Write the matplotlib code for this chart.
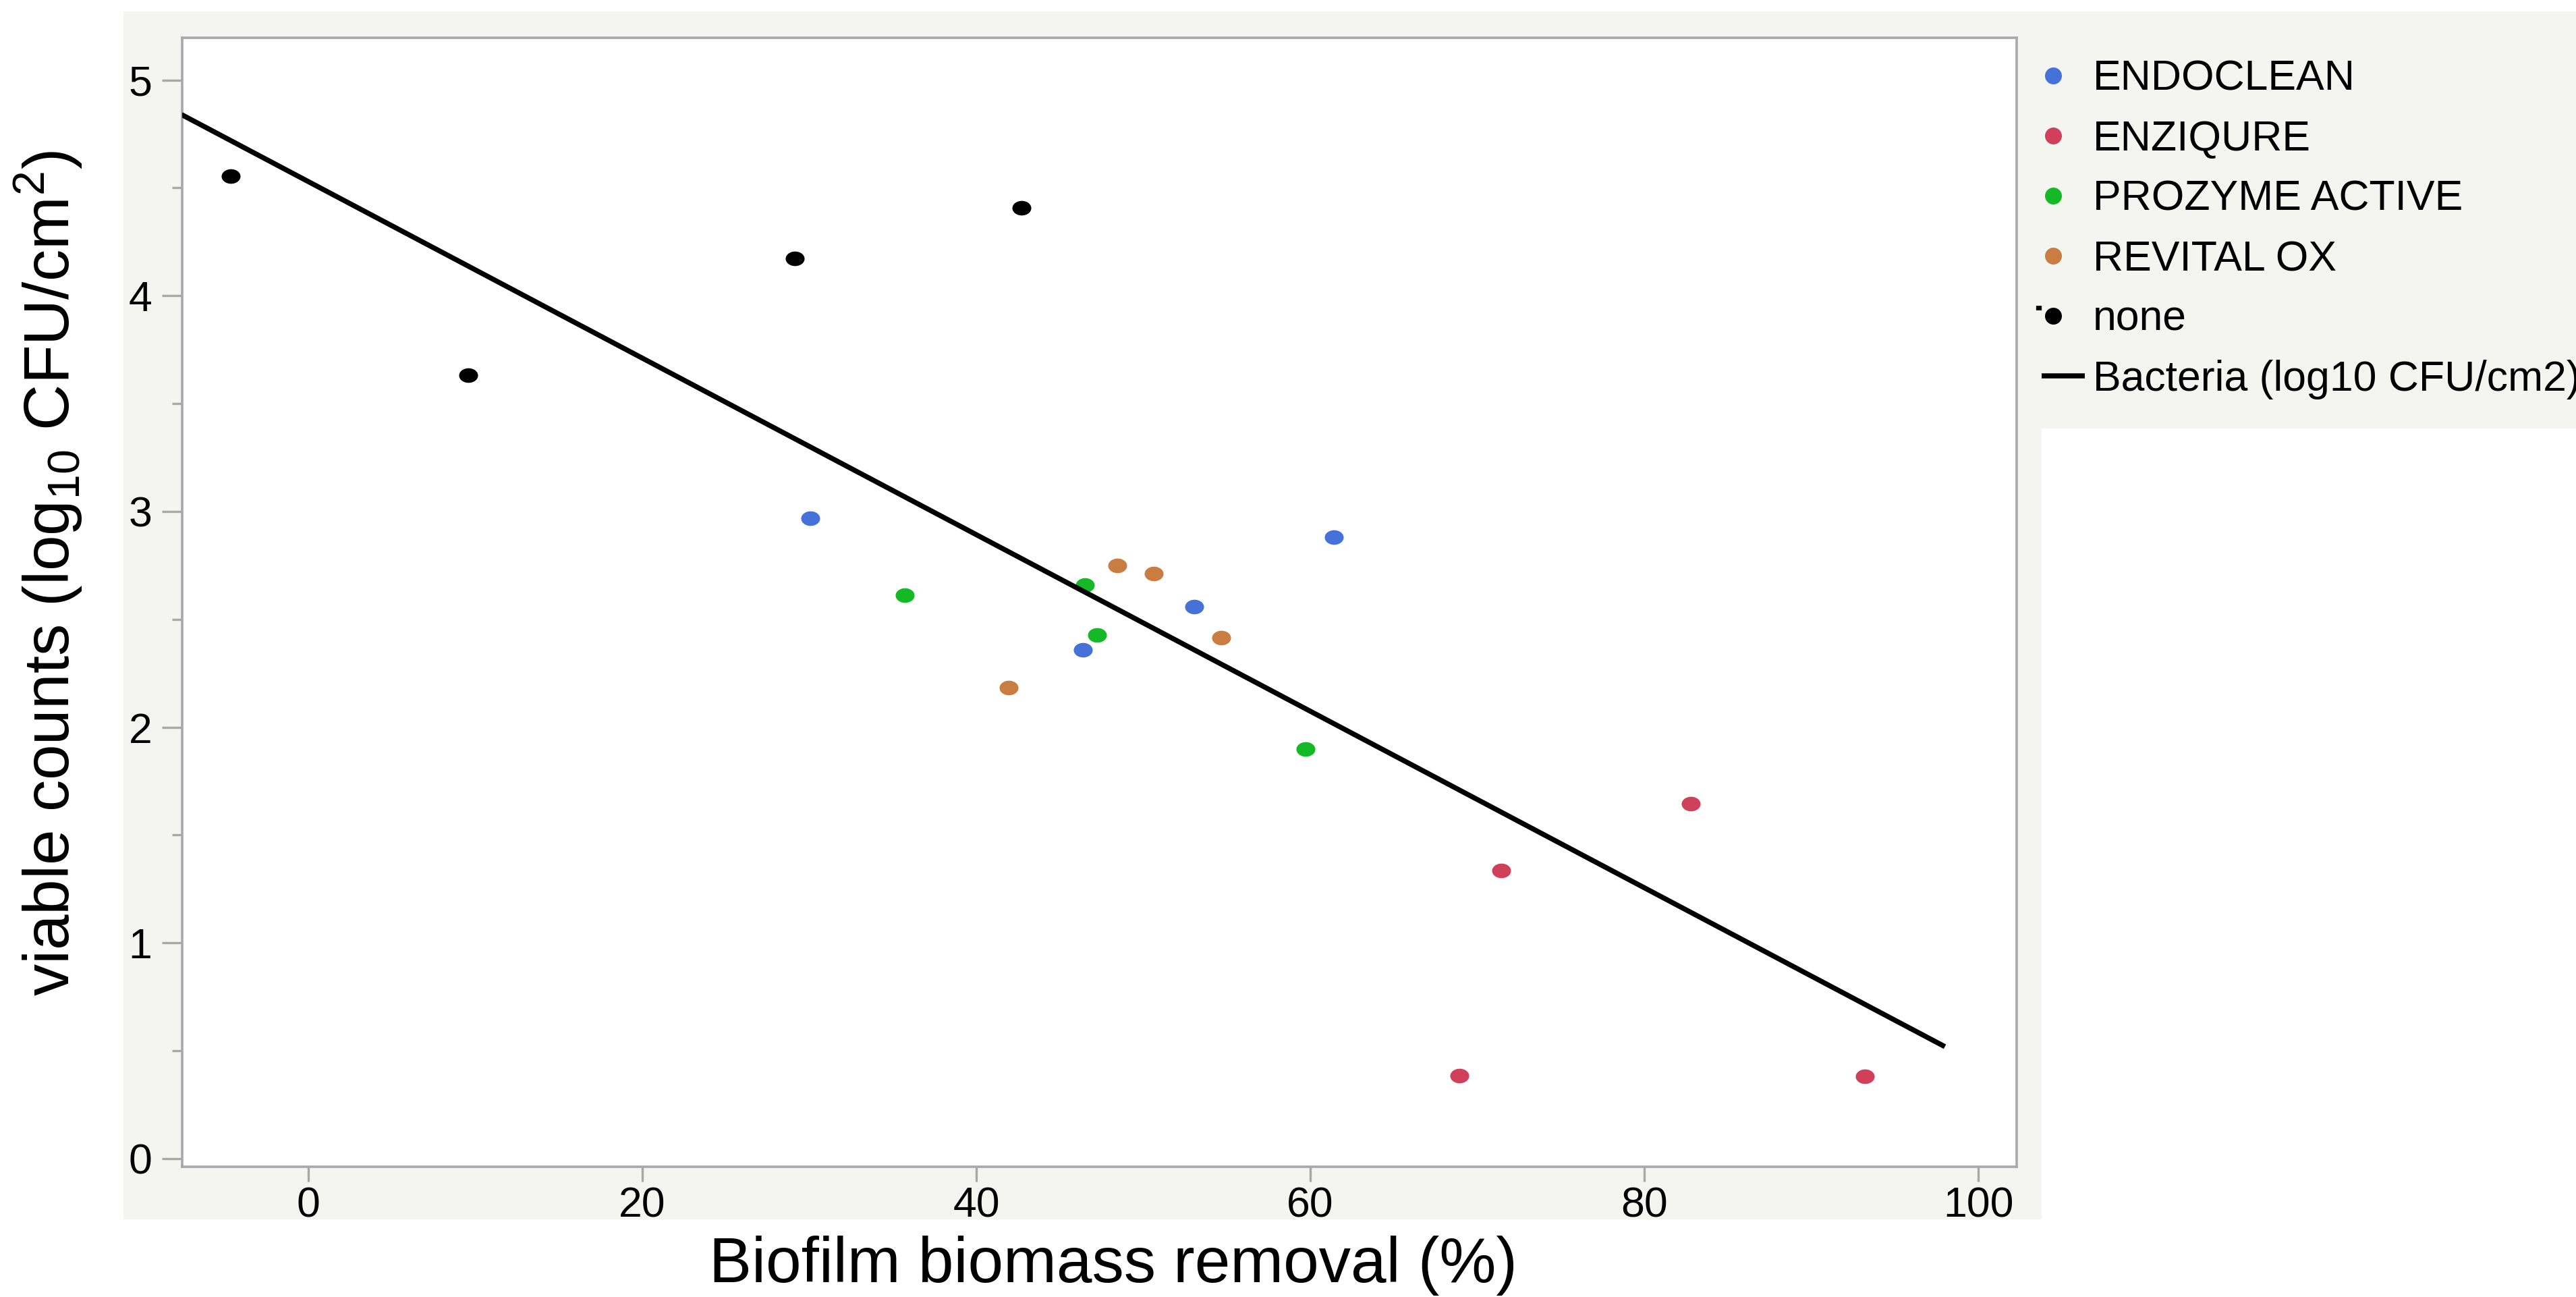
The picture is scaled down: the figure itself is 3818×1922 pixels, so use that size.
import numpy as np
import matplotlib
matplotlib.use("Agg")
import matplotlib.pyplot as plt
from matplotlib.path import Path
from matplotlib.transforms import Affine2D
from matplotlib.lines import Line2D
from matplotlib.patches import Rectangle
from matplotlib.legend_handler import HandlerLine2D
from matplotlib.ticker import AutoMinorLocator

plt.rcParams['font.family'] = ['Liberation Sans', 'DejaVu Sans']

# ---------------- data ----------------
groups = ['ENDOCLEAN', 'ENZIQURE', 'PROZYME ACTIVE', 'REVITAL OX', 'none']
colors = ['#4571d9', '#d0405a', '#14b925', '#c97d40', '#000000']

endoclean_x = [30.04, 46.40, 53.03, 61.41]
endoclean_y = [2.970, 2.360, 2.558, 2.880]
enziqure_x = [68.94, 71.43, 82.80, 93.19]
enziqure_y = [0.385, 1.334, 1.646, 0.382]
prozyme_x = [35.70, 46.51, 47.23, 59.71]
prozyme_y = [2.612, 2.659, 2.428, 1.898]
revital_x = [41.93, 48.46, 50.62, 54.66]
revital_y = [2.183, 2.748, 2.713, 2.416]
none_x = [-4.67, 9.59, 29.14, 42.70]
none_y = [4.555, 3.631, 4.173, 4.407]

fit_x_range = [-7.6, 98.0]
fit_label = 'Bacteria (log10 CFU/cm2)'

x_ticks = [0, 20, 40, 60, 80, 100]
y_ticks = [0, 1, 2, 3, 4, 5]
x_limits = (-7.56, 102.3)
y_limits = (-0.038, 5.196)

xlabel = 'Biofilm biomass removal (%)'
ylabel = r'viable counts (log$_{\mathregular{10}}$ CFU/cm$^{\mathregular{2}}$)'

series_x = [endoclean_x, enziqure_x, prozyme_x, revital_x, none_x]
series_y = [endoclean_y, enziqure_y, prozyme_y, revital_y, none_y]

# ---------------- figure ----------------
W, H = 3818, 1922
fig = plt.figure(figsize=(W / 100, H / 100), dpi=100)
fig.patch.set_facecolor('white')
panel = '#f4f5f0'
fig.add_artist(Rectangle((183 / W, 1 - 1807 / H), (3026 - 183) / W, (1807 - 17) / H,
                         transform=fig.transFigure, facecolor=panel, edgecolor='none', zorder=-5))
fig.add_artist(Rectangle((3026 / W, 1 - 635 / H), (W - 3026) / W, (635 - 17) / H,
                         transform=fig.transFigure, facecolor=panel, edgecolor='none', zorder=-5))

ax = fig.add_axes([270 / W, 193 / H, 2719 / W, 1673 / H])
ax.set_facecolor('white')

# elliptical dots (the reference plot area is stretched horizontally)
ellipse = Affine2D().scale(1.0, 0.77).transform_path(Path.unit_circle())

for xs, ys, c in zip(series_x, series_y, colors):
    ax.plot(xs, ys, linestyle='none', marker=ellipse, markersize=20.2,
            color=c, markeredgewidth=0, zorder=3)

all_x = np.concatenate([np.asarray(v, float) for v in series_x])
all_y = np.concatenate([np.asarray(v, float) for v in series_y])
slope, intercept = np.polyfit(all_x, all_y, 1)
fx = np.array(fit_x_range)
ax.plot(fx, slope * fx + intercept, color='black', lw=5.4,
        solid_capstyle='butt', zorder=4)

ax.set_xlim(*x_limits)
ax.set_ylim(*y_limits)
ax.set_xticks(x_ticks)
ax.set_yticks(y_ticks)
ax.yaxis.set_minor_locator(AutoMinorLocator(2))

spine_c = '#a8a8a8'
for s in ax.spines.values():
    s.set_color(spine_c)
    s.set_linewidth(2.6)

ax.tick_params(axis='x', which='major', length=15.8, width=2.4, color=spine_c,
               pad=5, labelsize=45, labelcolor='black')
ax.tick_params(axis='y', which='major', length=21.6, width=2.4, color=spine_c,
               pad=10.5, labelsize=45, labelcolor='black')
ax.tick_params(axis='y', which='minor', length=10.8, width=2.4, color=spine_c)

ax.set_xlabel(xlabel, fontsize=68, va='baseline')
ax.xaxis.set_label_coords(0.5075, -0.1022)
ax.set_ylabel(ylabel, fontsize=68, va='baseline')
ax.yaxis.set_label_coords(-0.0611, 0.526)

# ---------------- legend ----------------
class ShiftedMarkerHandler(HandlerLine2D):
    def __init__(self, shift_pt, **kw):
        super().__init__(**kw)
        self.shift_pt = shift_pt

    def create_artists(self, legend, orig_handle, xdescent, ydescent, width,
                       height, fontsize, trans):
        arts = super().create_artists(legend, orig_handle, xdescent, ydescent,
                                      width, height, fontsize, trans)
        for a in arts:
            a.set_xdata(np.asarray(a.get_xdata(), float) - self.shift_pt)
        return arts

# "none" legend marker: dot with a tiny square at its upper left
circ = Path.unit_circle()
unit_sq = Path.unit_rectangle().transformed(Affine2D().translate(-0.5, -0.5).scale(2))
sq = Affine2D().scale(0.33, 0.27).translate(-1.72, 0.96).transform_path(unit_sq)
none_marker = Path.make_compound_path(circ, sq)

handles = []
for g, c in zip(groups[:-1], colors[:-1]):
    handles.append(Line2D([], [], linestyle='none', marker='o', markersize=18,
                          color=c, markeredgewidth=0))
handles.append(Line2D([], [], linestyle='none', marker=none_marker,
                      markersize=36.9, color='black', markeredgewidth=0))
line_handle = Line2D([], [], color='black', lw=5.4, solid_capstyle='butt')
handles.append(line_handle)
labels = groups + [fit_label]

hmap = {h: ShiftedMarkerHandler(10.8) for h in handles[:-1]}
fig.legend(handles, labels, loc='upper left', bbox_to_anchor=(3026 / W, 1 - 88 / H),
           frameon=False, fontsize=45, handlelength=1.02, handletextpad=0.2,
           labelspacing=0.48, borderpad=0, borderaxespad=0, handler_map=hmap)

fig.savefig('out.png', dpi=100, facecolor='white')
